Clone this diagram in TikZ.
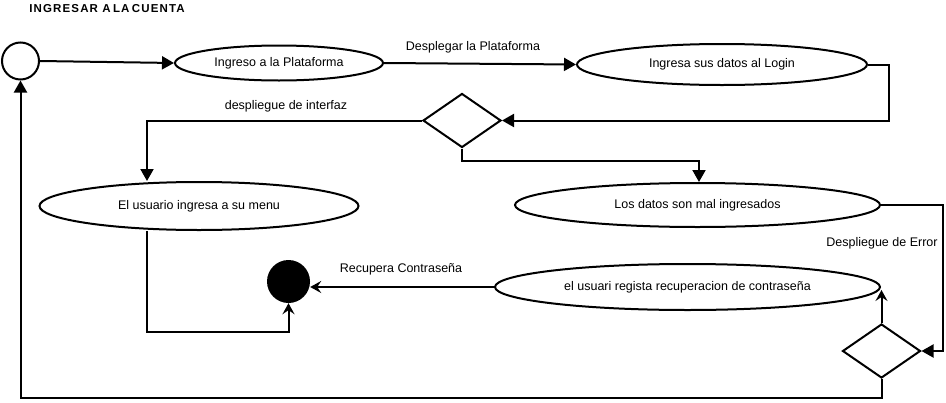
\documentclass[tikz,border=0pt]{standalone}
\usepackage{fontspec}
\setmainfont{Liberation Sans}
\usetikzlibrary{shapes.geometric,arrows.meta,calc}
\tikzset{
  lw/.style={line width=2pt},
  actbox/.style={ellipse, draw, lw, inner sep=0pt, font=\fontsize{12.5}{14}\selectfont},
  decbox/.style={diamond, draw, lw, inner sep=0pt, minimum width=78pt, minimum height=54pt},
  fillarrow/.style={lw, -{Triangle[length=12pt,width=13pt]}},
  openarrow/.style={lw, -{Stealth[length=11pt,width=12pt,inset=4pt]}},
  lbl/.style={font=\fontsize{12.5}{14}\selectfont, inner sep=0pt}
}
\begin{document}
\begin{tikzpicture}[x=1pt,y=-1pt]
\path[use as bounding box] (0,0) rectangle (946,402);
\node[font=\bfseries\fontsize{11.5}{13}\selectfont\addfontfeature{LetterSpace=10}, inner sep=0pt] (title) at (107,9) {INGRESAR A\kern-2pt\ LA\kern-2pt\ CUENTA};
\node[circle, draw, lw, minimum size=37pt, inner sep=0pt] (start) at (20.5,61) {};
\node[circle, fill=black, minimum size=43pt, inner sep=0pt] (end) at (288.5,281.5) {};
\node[actbox, minimum width=208pt, minimum height=35pt] (e1) at (279,63) {Ingreso a la Plataforma};
\node[actbox, minimum width=290pt, minimum height=41pt] (e2) at (722,64.5) {Ingresa sus datos al Login};
\node[decbox] (d1) at (462,120.5) {};
\node[actbox, minimum width=319pt, minimum height=48pt] (e3) at (199,206) {El usuario ingresa a su menu};
\node[actbox, minimum width=365pt, minimum height=44pt] (e4) at (697.5,205) {Los datos son mal ingresados};
\node[actbox, minimum width=385pt, minimum height=46pt] (e5) at (687.5,287) {el usuari regista recuperacion de contraseña};
\node[decbox] (d2) at (881.5,351) {};
\node[lbl] (l1) at (473,47) {Desplegar la Plataforma};
\node[lbl] (l2) at (286,106) {despliegue de interfaz};
\node[lbl] (l3) at (882,243) {Despliegue de Error};
\node[lbl] (l4) at (401,269) {Recupera Contraseña};
\draw[fillarrow] (start.east) -- (e1.west);
\draw[fillarrow] (e1.east) -- (e2.west);
\draw[fillarrow] (e2.east) -- ++(21,0) |- (d1.east);
\draw[fillarrow] (d1.west) -| ([xshift=-52pt]e3.north);
\draw[fillarrow] (d1.south) -- ++(0,12) -| ([xshift=1.5pt]e4.north);
\draw[fillarrow] (e4.east) -- ++(62,0) |- (d2.east);
\draw[openarrow] (d2.north) -- ($(d2.north |- e5.east)+(0,3)$);
\draw[fillarrow] (d2.south) -- ++(0,19) -| (start.south);
\draw[openarrow] (e5.west) -- (e5.west -| end.east);
\draw[openarrow] ([xshift=-52pt]e3.south) -- ++(0,101) -| (end.south);
\end{tikzpicture}
\end{document}
